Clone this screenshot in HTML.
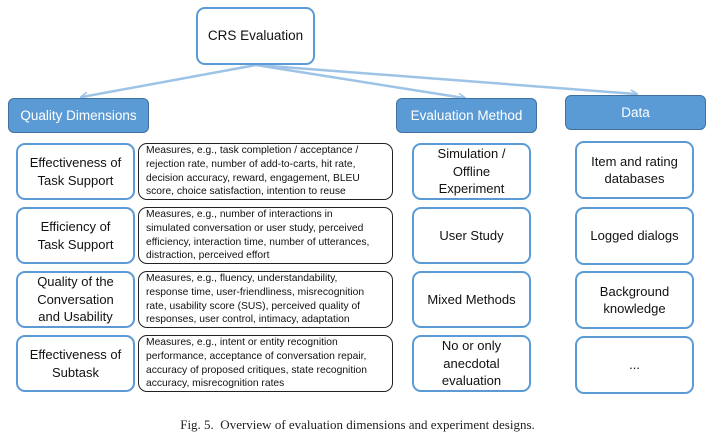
<!DOCTYPE html>
<html><head><meta charset="utf-8"><style>
body{margin:0;width:715px;height:443px;background:#fff;position:relative;font-family:"Liberation Sans",sans-serif;overflow:hidden}
.b{position:absolute;box-sizing:border-box;display:flex;align-items:center;justify-content:center;text-align:center;color:#111}
.blue{border:2px solid #5b9bd5;border-radius:9px;background:#fff;font-size:13px;line-height:17.5px}
.hdr{background:#5b9bd5;border:1px solid #41719c;border-radius:6px;color:#fff;font-size:13.5px}
.m{border:1.3px solid #222;border-radius:9px;font-size:10.3px;line-height:13.8px;text-align:left;justify-content:flex-start;padding-left:7px;white-space:nowrap}
.cap{position:absolute;top:417px;left:0;width:715px;text-align:center;font-family:"Liberation Serif",serif;font-size:13px;color:#222}
</style></head><body>
<svg style="position:absolute;left:0;top:0" width="715" height="443">
<defs><marker id="a" markerWidth="8" markerHeight="8" refX="6" refY="4" orient="auto" markerUnits="userSpaceOnUse"><path d="M0,0 L8,4 L0,8" fill="none" stroke="#9dc3e6" stroke-width="1.5"/></marker></defs>
<g stroke="#9dc3e6" stroke-width="2.5" fill="none">
<line x1="256" y1="65" x2="82" y2="97" marker-end="url(#a)"/>
<line x1="256" y1="65" x2="464" y2="98" marker-end="url(#a)"/>
<line x1="256" y1="65" x2="636" y2="94" marker-end="url(#a)"/>
</g></svg>
<div class="b blue" style="left:196px;top:7px;width:119px;height:58px;font-size:13.5px">CRS Evaluation</div>
<div class="b hdr" style="left:8px;top:98px;width:141px;height:35px">Quality Dimensions</div>
<div class="b hdr" style="left:396px;top:98px;width:141px;height:35px">Evaluation Method</div>
<div class="b hdr" style="left:565px;top:95px;width:141px;height:35px">Data</div>

<div class="b blue" style="left:16px;top:143px;width:119px;height:57px">Effectiveness of<br>Task Support</div>
<div class="b blue" style="left:16px;top:207px;width:119px;height:57px">Efficiency of<br>Task Support</div>
<div class="b blue" style="left:16px;top:271px;width:119px;height:57px">Quality of the<br>Conversation<br>and Usability</div>
<div class="b blue" style="left:16px;top:335px;width:119px;height:57px">Effectiveness of<br>Subtask</div>

<div class="b m" style="left:138px;top:143px;width:255px;height:57px">Measures, e.g., task completion / acceptance /<br>rejection rate, number of add-to-carts, hit rate,<br>decision accuracy, reward, engagement, BLEU<br>score, choice satisfaction, intention to reuse</div>
<div class="b m" style="left:138px;top:207px;width:255px;height:57px">Measures, e.g., number of interactions in<br>simulated conversation or user study, perceived<br>efficiency, interaction time, number of utterances,<br>distraction, perceived effort</div>
<div class="b m" style="left:138px;top:271px;width:255px;height:57px">Measures, e.g., fluency, understandability,<br>response time, user-friendliness, misrecognition<br>rate, usability score (SUS), perceived quality of<br>responses, user control, intimacy, adaptation</div>
<div class="b m" style="left:138px;top:335px;width:255px;height:57px">Measures, e.g., intent or entity recognition<br>performance, acceptance of conversation repair,<br>accuracy of proposed critiques, state recognition<br>accuracy, misrecognition rates</div>

<div class="b blue" style="left:412px;top:143px;width:119px;height:57px">Simulation /<br>Offline<br>Experiment</div>
<div class="b blue" style="left:412px;top:207px;width:119px;height:57px">User Study</div>
<div class="b blue" style="left:412px;top:271px;width:119px;height:57px">Mixed Methods</div>
<div class="b blue" style="left:412px;top:335px;width:119px;height:57px">No or only<br>anecdotal<br>evaluation</div>

<div class="b blue" style="left:575px;top:141px;width:119px;height:58px">Item and rating<br>databases</div>
<div class="b blue" style="left:575px;top:207px;width:119px;height:58px">Logged dialogs</div>
<div class="b blue" style="left:575px;top:271px;width:119px;height:58px">Background<br>knowledge</div>
<div class="b blue" style="left:575px;top:336px;width:119px;height:58px">...</div>

<div class="cap">Fig. 5.&nbsp; Overview of evaluation dimensions and experiment designs.</div>
</body></html>
